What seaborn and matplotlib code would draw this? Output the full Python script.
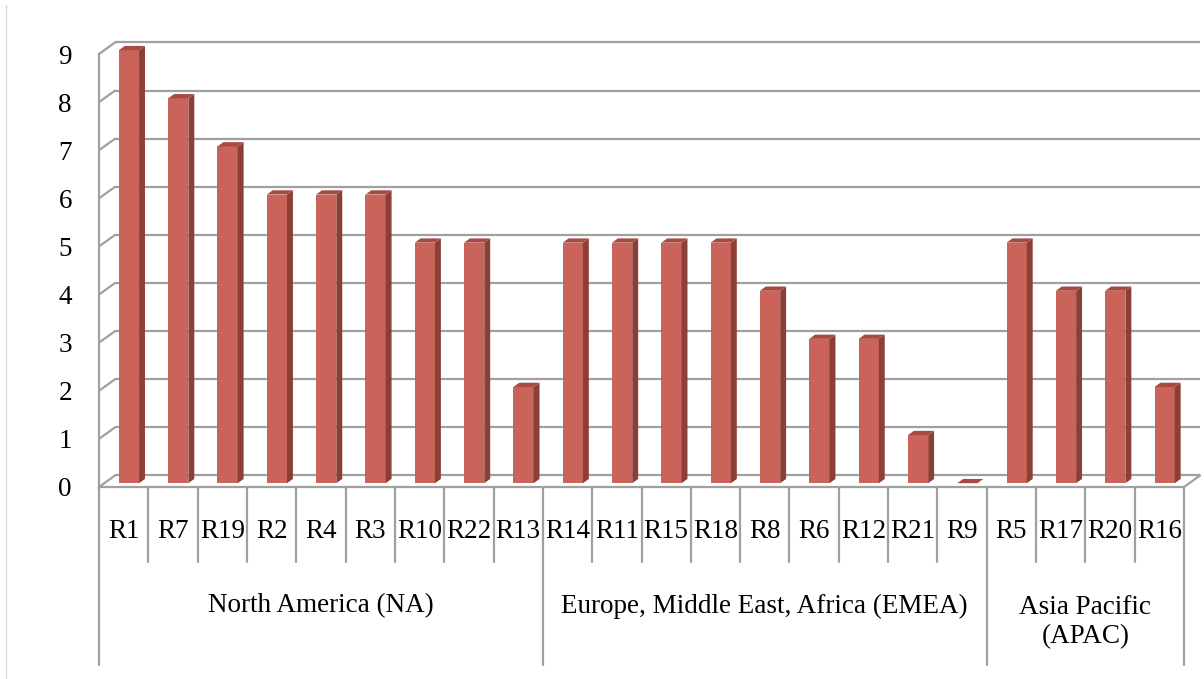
import matplotlib
matplotlib.use("Agg")
import matplotlib.pyplot as plt
from matplotlib.patches import Polygon
from matplotlib.lines import Line2D
import seaborn as sns
import pandas as pd

# ---- data ----
na_codes = ["R1", "R7", "R19", "R2", "R4", "R3", "R10", "R22", "R13"]
na_values = [9, 8, 7, 6, 6, 6, 5, 5, 2]
emea_codes = ["R14", "R11", "R15", "R18", "R8", "R6", "R12", "R21", "R9"]
emea_values = [5, 5, 5, 5, 4, 3, 3, 1, 0]
apac_codes = ["R5", "R17", "R20", "R16"]
apac_values = [5, 4, 4, 2]
region_labels = ["North America (NA)", "Europe, Middle East, Africa (EMEA)", "Asia Pacific\n(APAC)"]
y_ticks = list(range(10))

codes = na_codes + emea_codes + apac_codes
values = na_values + emea_values + apac_values
group_sizes = [len(na_codes), len(emea_codes), len(apac_codes)]
df = pd.DataFrame({"code": codes, "value": values})

# ---- style ----
sns.set_style("white")
plt.rcParams["font.family"] = ["Liberation Serif", "DejaVu Serif"]
FRONT = "#CA645A"
SIDE = "#8C3F37"
TOP = "#A84A42"
GRID = "#A0A0A0"
LW = 1.6
FS = 19.5

W, H = 1204, 679
fig = plt.figure(figsize=(W / 100, H / 100), dpi=100)
fig.patch.set_facecolor("white")
ax = fig.add_axes([99 / W, 1 - 487 / H, (1184 - 99) / W, (487 - 54) / H])

sns.barplot(data=df, x="code", y="value", order=codes, color=FRONT,
            saturation=1, width=0.41, linewidth=0, ax=ax)
ax.set_xlim(-0.5, len(codes) - 0.5)
ax.set_ylim(0, 9)

# depth offsets (in data units)
DX = 16 / 49.3
DY = 11.5 / 48.1
f_front = 0.33
d_bar = 0.37

xmin, xmax = -0.5, len(codes) - 0.5

# back wall gridlines and side wall diagonals
for v in y_ticks:
    ax.plot([xmin + DX, xmax + DX], [v + DY, v + DY], color=GRID, lw=LW,
            clip_on=False, zorder=1, solid_capstyle="butt")
    ax.plot([xmin, xmin + DX], [v, v + DY], color=GRID, lw=LW,
            clip_on=False, zorder=1)
ax.plot([xmax, xmax + DX], [0, DY], color=GRID, lw=LW, clip_on=False, zorder=1)

# 3D bars built from seaborn's patches
for p in list(ax.patches):
    x0 = p.get_x() + f_front * DX
    y0 = p.get_y() + f_front * DY
    w = p.get_width()
    h = p.get_height()
    p.set_x(x0)
    p.set_y(y0)
    p.set_zorder(4)
    p.set_clip_on(False)
    side = Polygon([(x0 + w, y0), (x0 + w + d_bar * DX, y0 + d_bar * DY),
                    (x0 + w + d_bar * DX, y0 + h + d_bar * DY), (x0 + w, y0 + h)],
                   closed=True, facecolor=SIDE, edgecolor="none", zorder=4, clip_on=False)
    top = Polygon([(x0, y0 + h), (x0 + w, y0 + h),
                   (x0 + w + d_bar * DX, y0 + h + d_bar * DY),
                   (x0 + d_bar * DX, y0 + h + d_bar * DY)],
                  closed=True, facecolor=TOP, edgecolor="none", zorder=4, clip_on=False)
    ax.add_patch(side)
    ax.add_patch(top)

# spines
for s in ["top", "right"]:
    ax.spines[s].set_visible(False)
for s in ["left", "bottom"]:
    ax.spines[s].set_color(GRID)
    ax.spines[s].set_linewidth(LW)

ax.set_yticks(y_ticks)
ax.set_yticklabels([str(t) for t in y_ticks])
ax.tick_params(axis="y", length=6.5, width=LW, color=GRID, pad=13,
               labelsize=FS, labelcolor="#000000")
ax.set_xticks([])
ax.set_xlabel("")
ax.set_ylabel("")

# category axis: separators and labels
lvl1_bottom = (487 - 562) / 48.1
grp_bottom = (487 - 665) / 48.1
bounds = [0]
for g in group_sizes:
    bounds.append(bounds[-1] + g)
for k in range(len(codes) + 1):
    yb = grp_bottom if k in bounds else lvl1_bottom
    ax.plot([xmin + k, xmin + k], [0, yb], color=GRID, lw=LW, clip_on=False, zorder=1)

for i, c in enumerate(codes):
    ax.text(i, (487 - 531) / 48.1, c, ha="center", va="center", fontsize=FS,
            color="#000000", clip_on=False)

for gi, lab in enumerate(region_labels):
    xc = (bounds[gi] + bounds[gi + 1]) / 2 - 0.5
    yc = (487 - 606) / 48.1 if "\n" not in lab else (487 - 622) / 48.1
    ax.text(xc, yc, lab, ha="center", va="center", fontsize=FS, color="#000000",
            linespacing=1.2, clip_on=False)

# left border of chart area
fig.add_artist(Line2D([6 / W, 6 / W], [0, 1 - 5 / H], color="#D9D9D9", lw=1))

fig.savefig("out.png", dpi=100, facecolor="white")
